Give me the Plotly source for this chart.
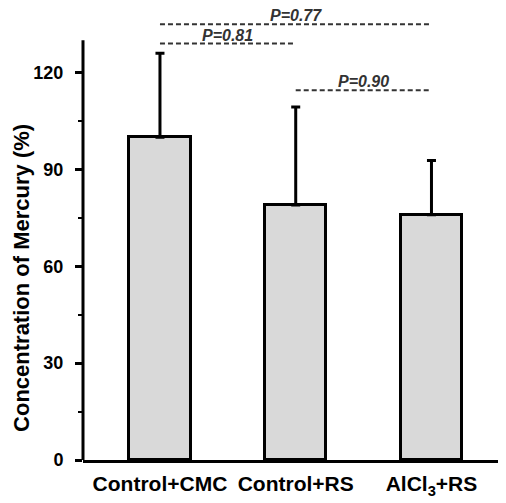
import plotly.graph_objects as go

categories = ["Control+CMC", "Control+RS", "AlCl<sub>3</sub>+RS"]
means = [100, 79, 76]
sd_upper = [26, 30.3, 16.8]
y_ticks = [0, 30, 60, 90, 120]
y_minor = [15, 45, 75, 105]

# significance brackets: (start index, end index, y level, label)
bracket_start = [0, 0, 1]
bracket_end = [2, 1, 2]
bracket_y = [135, 129, 114.5]
bracket_text = ["P=0.77", "P=0.81", "P=0.90"]

FONT = "Arial, Liberation Sans, sans-serif"
xpos = list(range(len(categories)))

fig = go.Figure()
fig.add_trace(go.Bar(
    x=xpos, y=means, width=0.45,
    marker=dict(color="#d9d9d9", line=dict(color="black", width=3)),
    error_y=dict(type="data", symmetric=False, array=sd_upper,
                 arrayminus=[0] * len(means), color="black",
                 thickness=3, width=4.5),
    showlegend=False,
))

for s, e, yv, t in zip(bracket_start, bracket_end, bracket_y, bracket_text):
    fig.add_shape(type="line", xref="x", yref="y", x0=s, x1=e, y0=yv, y1=yv,
                  line=dict(color="#333333", width=2, dash="5px,3px"))
    fig.add_annotation(x=(s + e) / 2, y=yv, xref="x", yref="y", text=f"<b><i>{t}</i></b>",
                       showarrow=False, yanchor="bottom", yshift=-2,
                       font=dict(family=FONT, size=16, color="#333333"))

# y axis line (stops at 130)
fig.add_shape(type="line", xref="paper", yref="y", x0=0, x1=0, y0=0, y1=130,
              line=dict(color="black", width=3))

# y axis title (placed as a rotated annotation)
fig.add_annotation(text="<b>Concentration of Mercury (%)</b>", textangle=-90,
                   xref="paper", yref="paper", x=-0.144, y=0.403,
                   xanchor="center", yanchor="middle", showarrow=False,
                   font=dict(family=FONT, size=22, color="black"))

# page body has an 8px margin, so the figure is sized/offset accordingly
fig.update_layout(
    width=498, height=495,
    margin=dict(l=75, r=0, t=0, b=43),
    plot_bgcolor="white", paper_bgcolor="white",
    font=dict(family=FONT, color="black"),
    bargap=0,
)
fig.update_xaxes(
    range=[-0.567, 2.549], tickvals=xpos,
    ticktext=[f"<b>{c}</b>" for c in categories],
    tickfont=dict(family=FONT, size=21, color="black"),
    showline=True, linecolor="black", linewidth=3, ticks="",
    showgrid=False, zeroline=False, ticklabelstandoff=3, automargin=False,
)
fig.update_yaxes(
    range=[0, 140], tickvals=y_ticks, ticktext=[f"<b>{v}</b>" for v in y_ticks],
    tickfont=dict(family=FONT, size=18, color="black"),
    ticks="outside", ticklen=7, tickwidth=2.5, tickcolor="black",
    minor=dict(tickvals=y_minor, ticks="outside", ticklen=4, tickwidth=2, tickcolor="black"),
    showline=False, showgrid=False, zeroline=False, automargin=False,
    ticklabelstandoff=8,
)

fig.write_html("out.html")
